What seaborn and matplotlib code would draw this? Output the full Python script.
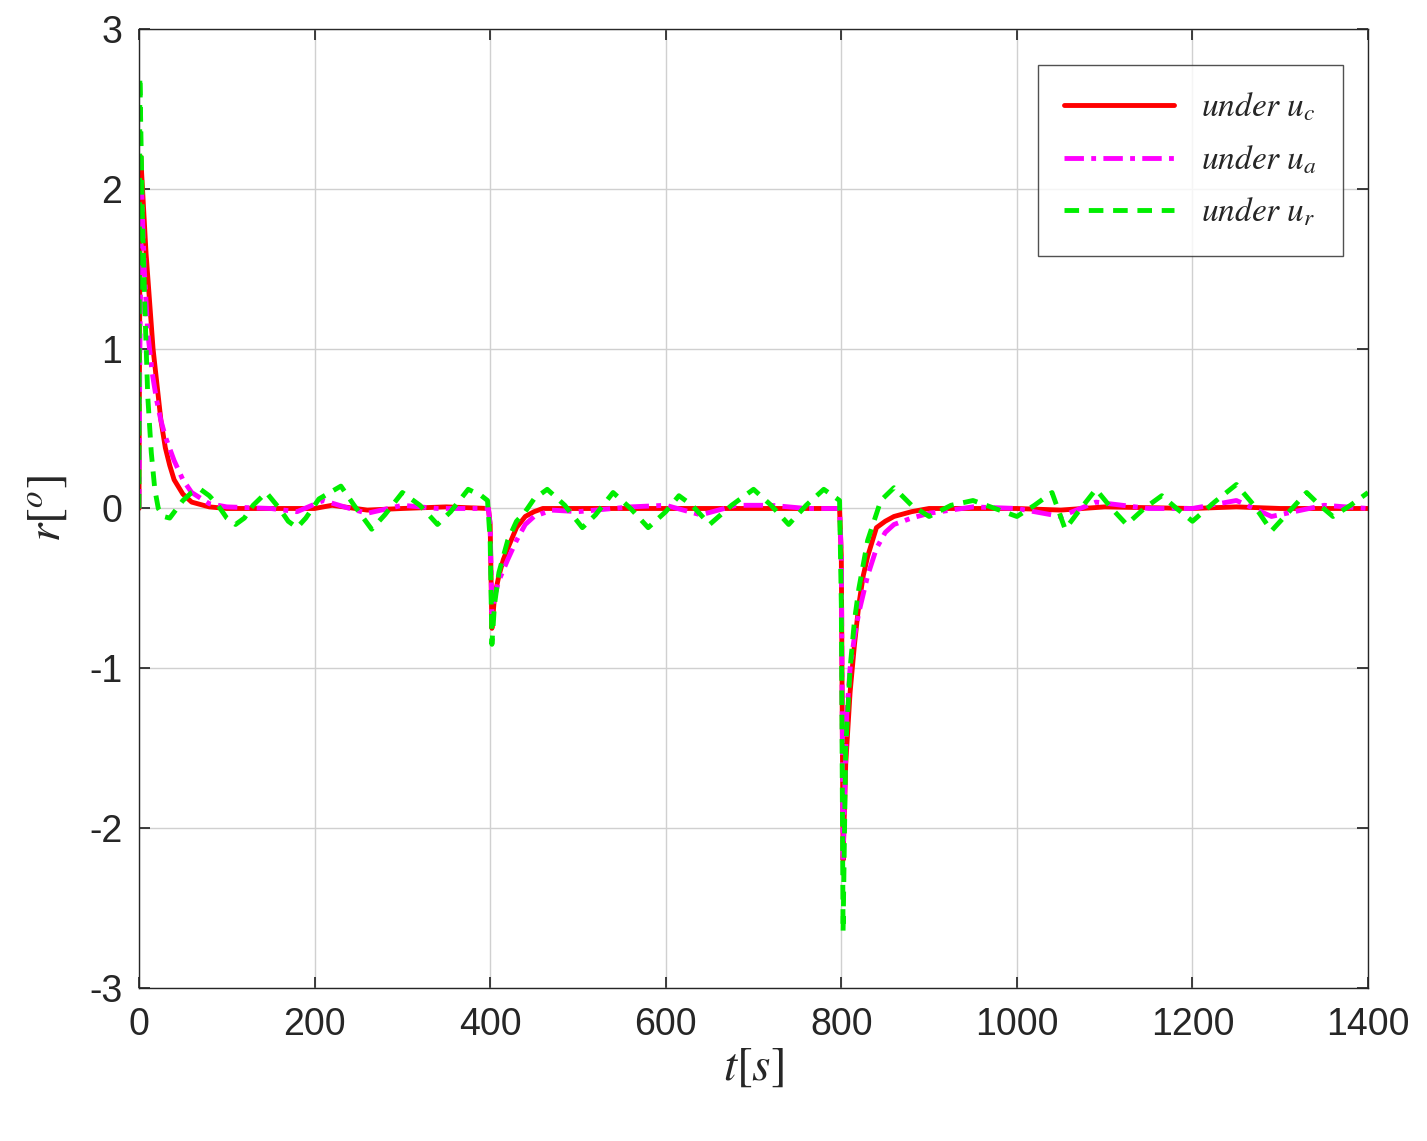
import numpy as np
import matplotlib
matplotlib.use("Agg")
import matplotlib.pyplot as plt
import seaborn as sns
import pandas as pd

# 곡선 데이터
t_c = [0, 1, 2, 4, 8, 12, 16, 20, 25, 30, 35, 40, 50, 60, 80, 100, 150, 200, 220, 260, 300, 350, 398,
       400, 402, 405, 410, 415, 420, 430, 440, 450, 460, 500, 550, 600, 650, 700, 750, 798,
       800, 802, 805, 810, 815, 820, 825, 830, 840, 850, 860, 880, 900, 1000, 1050, 1100, 1200, 1250, 1300, 1400]
r_c = [0, 1.5, 2.2, 2.0, 1.6, 1.3, 1.0, 0.8, 0.55, 0.38, 0.27, 0.18, 0.09, 0.04, 0.01, 0.0, 0.0, 0.0, 0.02, -0.01, 0.0, 0.01, 0.0,
       -0.1, -0.75, -0.55, -0.42, -0.32, -0.25, -0.12, -0.05, -0.02, 0.0, 0.0, 0.0, 0.0, 0.0, 0.0, 0.0, 0.0,
       -0.3, -2.2, -1.6, -1.15, -0.85, -0.6, -0.42, -0.3, -0.12, -0.08, -0.05, -0.02, 0.0, 0.0, -0.01, 0.01, 0.0, 0.01, 0.0, 0.0]

t_a = [0, 1, 3, 6, 10, 15, 20, 25, 30, 40, 50, 60, 80, 100, 150, 180, 210, 240, 260, 300, 340, 398,
       400, 402, 405, 410, 420, 430, 440, 450, 470, 500, 560, 600, 640, 680, 720, 760, 798,
       800, 802, 806, 810, 815, 820, 830, 840, 850, 860, 880, 900, 950, 1000, 1050, 1090, 1150, 1200, 1250, 1290, 1350, 1400]
r_a = [0, 1.0, 2.0, 1.5, 1.1, 0.85, 0.68, 0.55, 0.45, 0.3, 0.18, 0.1, 0.03, 0.01, 0.0, -0.02, 0.05, 0.0, -0.03, 0.02, 0.0, 0.0,
       -0.1, -0.65, -0.55, -0.45, -0.32, -0.2, -0.1, -0.05, -0.01, -0.02, 0.01, 0.02, -0.04, 0.02, 0.02, 0.0, 0.0,
       -0.3, -2.2, -1.3, -1.0, -0.8, -0.65, -0.42, -0.25, -0.15, -0.1, -0.06, -0.03, 0.01, 0.0, -0.05, 0.04, 0.0, 0.0, 0.05, -0.05, 0.02, 0.0]

t_r = [0, 1, 2, 4, 7, 10, 14, 18, 22, 28, 35, 50, 60, 70, 80, 90, 100, 110, 120, 130, 145, 160, 170, 180, 190, 205,
       230, 245, 265, 280, 300, 320, 340, 355, 375, 390, 397,
       400, 402, 405, 410, 420, 430, 440, 450, 465, 485, 505, 520, 540, 560, 580, 600, 615, 630, 650, 675, 700,
       720, 740, 760, 780, 798,
       800, 802, 805, 810, 815, 820, 830, 845, 860, 880, 900, 925, 950, 975, 1000, 1020, 1040, 1055, 1070, 1090,
       1108, 1125, 1145, 1165, 1182, 1200, 1225, 1250, 1270, 1290, 1310, 1330, 1345, 1360, 1380, 1400]
r_r = [0, 2.7, 2.4, 1.8, 1.2, 0.7, 0.35, 0.12, 0.0, -0.05, -0.06, 0.05, 0.1, 0.12, 0.08, 0.02, -0.06, -0.1, -0.06, 0.02, 0.1,
       0.0, -0.08, -0.12, -0.06, 0.06, 0.14, 0.02, -0.13, -0.04, 0.1, 0.02, -0.1, -0.02, 0.12, 0.08, 0.05,
       -0.2, -0.85, -0.6, -0.4, -0.2, -0.08, -0.02, 0.06, 0.12, 0.02, -0.12, -0.04, 0.1, 0.0, -0.12, -0.02, 0.08, 0.02,
       -0.1, 0.02, 0.12, 0.02, -0.1, 0.02, 0.12, 0.05,
       -0.6, -2.65, -1.5, -1.0, -0.7, -0.5, -0.2, 0.05, 0.13, 0.02, -0.05, 0.02, 0.05, 0.0, -0.05, 0.02, 0.1, -0.13,
       -0.02, 0.12, 0.0, -0.1, 0.0, 0.08, 0.0, -0.08, 0.04, 0.15, 0.02, -0.14, -0.02, 0.1, 0.02, -0.05, 0.02, 0.1]

sns.set_theme(style="white")
plt.rcParams['font.family'] = ['Liberation Sans', 'DejaVu Sans']
plt.rcParams['mathtext.fontset'] = 'stix'
plt.rcParams['axes.unicode_minus'] = False

fig = plt.figure(figsize=(14.27, 11.41), dpi=100)
ax = fig.add_axes([0.0974, 0.1341, 0.8613, 0.8405])

df_c = pd.DataFrame({'t': t_c, 'r': r_c})
df_a = pd.DataFrame({'t': t_a, 'r': r_a})
df_r = pd.DataFrame({'t': t_r, 'r': r_r})

sns.lineplot(data=df_c, x='t', y='r', ax=ax, color='#ff0000', lw=3.5, sort=False,
             label=r'$\mathit{under}\ u_c$')
sns.lineplot(data=df_a, x='t', y='r', ax=ax, color='#ff00ff', lw=3.5, sort=False,
             label=r'$\mathit{under}\ u_a$')
ax.lines[-1].set_linestyle((0, (4, 1.5, 1, 1.5)))
sns.lineplot(data=df_r, x='t', y='r', ax=ax, color='#00ee00', lw=3.5, sort=False,
             label=r'$\mathit{under}\ u_r$')
ax.lines[-1].set_linestyle((0, (3, 2)))

ax.set_xlim(0, 1400)
ax.set_ylim(-3, 3)
ax.set_xticks(range(0, 1401, 200))
ax.set_yticks(range(-3, 4))
ax.grid(True, color='#d0d0d0', lw=1)
for s in ax.spines.values():
    s.set_color('#262626')
    s.set_linewidth(1)
ax.tick_params(labelsize=27, direction='in', length=8, top=True, right=True,
               bottom=True, left=True, colors='#262626')
ax.tick_params(axis='x', pad=14)
ax.tick_params(axis='y', pad=12)
ax.set_xlabel(r'$t[s]$', fontsize=34, labelpad=2)
ax.set_ylabel(r'$r[^o]$', fontsize=34, labelpad=14)

leg = ax.legend(loc='upper right', fontsize=24, frameon=True, fancybox=False,
                edgecolor='#262626', borderpad=0.8, handlelength=3.3, labelspacing=0.6,
                bbox_to_anchor=(0.9935, 0.9800))
leg.get_frame().set_linewidth(1)

fig.savefig('out.png', dpi=100)
